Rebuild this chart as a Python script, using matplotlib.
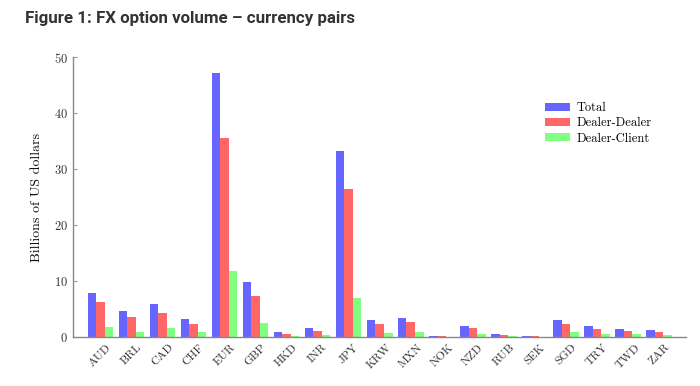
import numpy as np
import matplotlib.pyplot as plt

# 数据
currencies = ['AUD', 'BRL', 'CAD', 'CHF', 'EUR', 'GBP', 'HKD', 'INR', 'JPY', 'KRW',
              'MXN', 'NOK', 'NZD', 'RUB', 'SEK', 'SGD', 'TRY', 'TWD', 'ZAR']
total = [7.9, 4.6, 5.9, 3.15, 47.1, 9.9, 0.9, 1.55, 33.3, 3.0,
         3.4, 0.25, 2.0, 0.5, 0.2, 3.0, 1.95, 1.4, 1.25]
dealer_dealer = [6.25, 3.6, 4.2, 2.3, 35.5, 7.4, 0.6, 1.07, 26.4, 2.3,
                 2.7, 0.2, 1.55, 0.4, 0.15, 2.3, 1.5, 1.1, 0.95]
dealer_client = [1.7, 0.95, 1.6, 0.9, 11.7, 2.5, 0.2, 0.4, 6.9, 0.8,
                 0.85, 0.05, 0.55, 0.1, 0.05, 0.85, 0.6, 0.45, 0.4]
y_ticks = [0, 10, 20, 30, 40, 50]

plt.rcParams['font.family'] = ['cmr10', 'DejaVu Serif']
plt.rcParams['axes.formatter.use_mathtext'] = True

fig = plt.figure(figsize=(7, 3.86), dpi=100)
ax = fig.add_axes([0.104, 0.127, 0.876, 0.725])

x = np.arange(len(currencies))
w = 0.275
ax.bar(x - w, total, w, color='#6666ff', label='Total')
ax.bar(x, dealer_dealer, w, color='#ff6666', label='Dealer-Dealer')
ax.bar(x + w, dealer_client, w, color='#80ff80', label='Dealer-Client')

ax.set_xlim(-0.89, len(currencies) - 1 + 0.87)
ax.set_ylim(0, 50)
ax.set_yticks(y_ticks)
ax.set_xticks(x)
ax.set_xticklabels(currencies, rotation=45, ha='center', fontsize=8.5, color='#333333')
ax.tick_params(axis='x', length=0, pad=4)
ax.tick_params(axis='y', direction='in', length=3, labelsize=9, colors='#333333', color='#999999')

for s in ['top', 'right']:
    ax.spines[s].set_visible(False)
for s in ['left', 'bottom']:
    ax.spines[s].set_color('#888888')
    ax.spines[s].set_linewidth(1.0)

ax.set_ylabel('Billions of US dollars', fontsize=10, color='#111111', labelpad=8)

ax.legend(loc='upper left', bbox_to_anchor=(0.752, 0.88), frameon=False, fontsize=9,
          handlelength=2.0, handleheight=0.6, labelspacing=0.25, handletextpad=0.5)

fig.text(0.036, 0.953, 'Figure 1: FX option volume \u2013 currency pairs',
         fontsize=12.2, fontweight='bold', family='Roboto', color='#333333', va='center')

fig.savefig('out.png', dpi=100, facecolor='white')
